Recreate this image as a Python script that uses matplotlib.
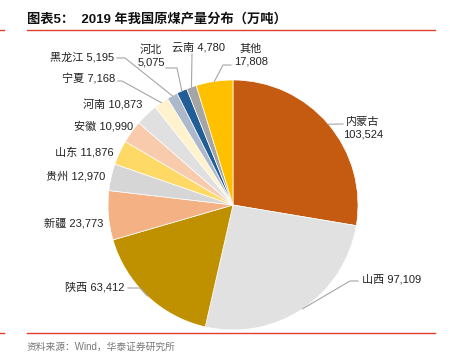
import numpy as np
import matplotlib.pyplot as plt

plt.rcParams['font.family'] = ['Liberation Sans', 'Noto Sans CJK SC']

# 2019 年原煤产量（万吨）
regions = ['内蒙古', '山西', '陕西', '新疆', '贵州', '山东', '安徽', '河南',
           '宁夏', '黑龙江', '河北', '云南', '其他']
output = [103524, 97109, 63412, 23773, 12970, 11876, 10990, 10873,
          7168, 5195, 5075, 4780, 17808]
colors = ['#C55A11', '#E1E1E1', '#BF9000', '#F4B183', '#D6D6D6', '#FFD966',
          '#F8CBAD', '#E0E0E0', '#FFF2CC', '#ADB9CA', '#215E97', '#A5A5A5',
          '#FFC000']

W, H = 452, 360


def py(y):
    # pixel row -> axes y
    return H - y


# label placement: x, y (pixels), ha, two lines?, leader elbow points
layout = {
    '内蒙古': (363, 128, 'center', True, [(343, 124)]),
    '山西': (362, 279, 'left', False, [(350, 281), (358, 281)]),
    '陕西': (125, 287, 'right', False, [(140, 288), (128, 288)]),
    '新疆': (103, 223, 'right', False, []),
    '贵州': (105, 176, 'right', False, []),
    '山东': (114, 152, 'right', False, []),
    '安徽': (133, 126, 'right', False, []),
    '河南': (142, 105, 'right', False, []),
    '宁夏': (115, 79, 'right', False, [(122, 81), (118, 81)]),
    '黑龙江': (114, 57, 'right', False, [(125, 58), (117, 58)]),
    '河北': (151, 56, 'center', True, [(177, 68), (166, 68)]),
    '云南': (172, 47, 'left', False, [(192, 54)]),
    '其他': (251, 55, 'center', True, [(223, 65), (231, 65)]),
}

fig = plt.figure(figsize=(W / 100, H / 100), dpi=100)
ax = fig.add_axes([0, 0, 1, 1])
cx, cy, r = 233, 205, 125
wedges, _ = ax.pie(output, colors=colors, startangle=90, counterclock=False,
                   center=(cx, py(cy)), radius=r,
                   wedgeprops=dict(edgecolor='white', linewidth=0.5))
ax.set_xlim(0, W)
ax.set_ylim(0, H)
ax.set_aspect('equal')
ax.axis('off')

for w, name, val in zip(wedges, regions, output):
    x, y, ha, two, elbows = layout[name]
    sep = '\n' if two else ' '
    ax.text(x, py(y), f'{name}{sep}{val:,}', ha=ha, va='center',
            fontsize=8, color='#222222', linespacing=1.35)
    if elbows:
        mid = np.deg2rad((w.theta1 + w.theta2) / 2)
        pts = [(cx + r * np.cos(mid), py(cy) + r * np.sin(mid))]
        pts += [(ex, py(ey)) for ex, ey in elbows]
        xs, ys = zip(*pts)
        ax.plot(xs, ys, color='#A6A6A6', lw=0.8)

# title and frame lines
ax.text(27, py(19), '图表5：  2019 年我国原煤产量分布（万吨）', ha='left',
        va='center', fontsize=9.5, fontweight='bold', color='#111111')
red = '#E2402F'
for yy in (30, 333):
    ax.plot([27, 435], [py(yy), py(yy)], color=red, lw=1)
    ax.plot([0, 4], [py(yy), py(yy)], color=red, lw=1)
ax.text(27, py(347), '资料来源：Wind，华泰证券研究所', ha='left', va='center',
        fontsize=7, color='#777777')

fig.savefig('out.png', dpi=100)
